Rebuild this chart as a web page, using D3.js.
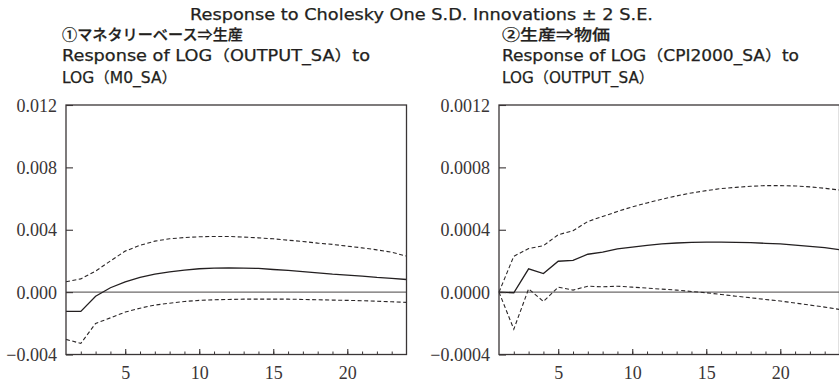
<!DOCTYPE html>
<html><head><meta charset="utf-8">
<script src="https://cdn.jsdelivr.net/npm/d3@7"></script>
<style>
html,body{margin:0;padding:0;background:#fff;}
svg{display:block;}
.sans{font-family:"DejaVu Sans","Noto Sans CJK JP",sans-serif;fill:#231f20;stroke:#231f20;stroke-width:0.25px;}
.cjk{font-family:"Noto Sans CJK JP",sans-serif;font-weight:500;fill:#231f20;stroke:#231f20;stroke-width:0.25px;}
.serif{font-family:"Liberation Serif","DejaVu Serif",serif;fill:#3a3536;}
</style></head>
<body>
<script>
const title = "Response to Cholesky One S.D. Innovations \u00B1 2 S.E.";
const periods = d3.range(1, 25);

// Panel 1: LOG(OUTPUT_SA) to LOG(M0_SA)
const p1Title = ["\u2460マネタリーベース\u21D2生産", "Response of LOG\uFF08OUTPUT_SA\uFF09to", "LOG\uFF08M0_SA\uFF09"];
const p1Ticks = [-0.004, 0.000, 0.004, 0.008, 0.012];
const p1Labels = ["\u22120.004", "0.000", "0.004", "0.008", "0.012"];
const p1Resp = [-0.00124,-0.00124,-0.00026,0.00028,0.00066,0.00094,0.00115,0.0013,0.00141,0.0015,0.00154,0.00156,0.00154,0.00152,0.00145,0.00139,0.00132,0.00124,0.00115,0.00109,0.00103,0.00094,0.00088,0.00081];
const p1Upper = [0.00066,0.00085,0.00135,0.002,0.00263,0.003,0.00327,0.00342,0.0035,0.00355,0.00357,0.00357,0.00353,0.00348,0.00342,0.00333,0.00325,0.00314,0.00306,0.00295,0.00284,0.00271,0.00256,0.00231];
const p1Lower = [-0.00303,-0.00329,-0.00201,-0.00165,-0.00128,-0.00103,-0.00083,-0.00071,-0.0006,-0.00053,-0.00049,-0.00047,-0.00045,-0.00045,-0.00045,-0.00045,-0.00047,-0.00049,-0.00051,-0.00053,-0.00055,-0.00058,-0.00062,-0.00066];

// Panel 2: LOG(CPI2000_SA) to LOG(OUTPUT_SA)
const p2Title = ["\u2461生産\u21D2物価", "Response of LOG\uFF08CPI2000_SA\uFF09to", "LOG\uFF08OUTPUT_SA\uFF09"];
const p2Ticks = [-0.0004, 0.0000, 0.0004, 0.0008, 0.0012];
const p2Labels = ["\u22120.0004", "0.0000", "0.0004", "0.0008", "0.0012"];
const p2Resp = [0,-0.000004,0.000149,0.000119,0.000198,0.000204,0.000243,0.000257,0.000277,0.000289,0.0003,0.000309,0.000315,0.000319,0.000321,0.000321,0.000319,0.000317,0.000313,0.000309,0.000302,0.000294,0.000285,0.000272];
const p2Upper = [0,0.00023,0.000279,0.000298,0.000368,0.000394,0.000453,0.000485,0.000517,0.000547,0.000572,0.000596,0.000617,0.000636,0.000651,0.000664,0.000672,0.000679,0.000683,0.000683,0.000681,0.000675,0.000666,0.000655];
const p2Lower = [0,-0.000238,0.000021,-0.00006,0.000032,0.000013,0.000038,0.000034,0.000038,0.000032,0.000026,0.000019,0.000013,0.000004,-0.000004,-0.000015,-0.000026,-0.000036,-0.000047,-0.000057,-0.00007,-0.000083,-0.000096,-0.000111];

const xMajor = [5, 10, 15, 20];

const W = 839, H = 382;
const svg = d3.select("body").append("svg").attr("width", W).attr("height", H);

function fit(sel, w) {
  sel.attr("textLength", w).attr("lengthAdjust", "spacingAndGlyphs");
  return sel;
}

fit(svg.append("text").attr("class","sans").attr("x", 190).attr("y", 20)
  .style("font-size","15px").text(title), 463);

const topY = 105, bottomY = 354.5;
const panels = [
  {left: 66, right: 406.5, tx: 62, widths: [181, 308, 115], titles: p1Title, ticks: p1Ticks, labels: p1Labels, resp: p1Resp, up: p1Upper, lo: p1Lower},
  {left: 499, right: 839.5, tx: 502, widths: [108, 297, 152], titles: p2Title, ticks: p2Ticks, labels: p2Labels, resp: p2Resp, up: p2Upper, lo: p2Lower}
];

panels.forEach(p => {
  const g = svg.append("g");
  const x = d3.scaleLinear().domain([1, 24]).range([p.left, p.right]);
  const y = d3.scaleLinear().domain([p.ticks[0], p.ticks[p.ticks.length-1]]).range([bottomY, topY]);

  p.titles.forEach((t, i) => {
    fit(g.append("text").attr("class", i === 0 ? "cjk" : "sans").attr("x", p.tx).attr("y", [39.5, 60.5, 83][i])
      .style("font-size","15px").text(t), p.widths[i]);
  });

  g.append("line").attr("x1", x(1)).attr("x2", x(24)).attr("y1", y(0)).attr("y2", y(0))
    .attr("stroke","#6d6a6a").attr("stroke-width",1.4);

  const line = d3.line().x((d,i) => x(periods[i])).y(d => y(d));
  g.append("path").attr("d", line(p.up)).attr("fill","none").attr("stroke","#2b2728")
    .attr("stroke-width",1.1).attr("stroke-dasharray","4,2.5");
  g.append("path").attr("d", line(p.lo)).attr("fill","none").attr("stroke","#2b2728")
    .attr("stroke-width",1.1).attr("stroke-dasharray","4,2.5");
  g.append("path").attr("d", line(p.resp)).attr("fill","none").attr("stroke","#231f20")
    .attr("stroke-width",1.3);

  g.append("rect").attr("x", p.left).attr("y", topY).attr("width", p.right - p.left).attr("height", bottomY - topY)
    .attr("fill","none").attr("stroke","#3a3536").attr("stroke-width",1.3);

  const ya = d3.axisLeft(y).tickValues(p.ticks).tickFormat((d,i) => p.labels[i]).tickSize(-7).tickPadding(16);
  const yg = g.append("g").attr("transform", `translate(${p.left},0)`).call(ya);
  yg.select(".domain").remove();
  yg.selectAll(".tick line").attr("stroke","#3a3536").attr("stroke-width",1.1);
  yg.selectAll(".tick text").attr("class","serif").style("font-size","18px").attr("fill","#3a3536").attr("x", -9).attr("dy","0.34em");

  const xa = d3.axisBottom(x).tickValues(periods.slice(1, 23)).tickSize(-3).tickFormat("");
  const xg = g.append("g").attr("transform", `translate(0,${bottomY})`).call(xa);
  xg.select(".domain").remove();
  xg.selectAll(".tick line").attr("stroke","#3a3536").attr("stroke-width",1);
  const xaM = d3.axisBottom(x).tickValues(xMajor).tickSize(-5.5).tickPadding(9);
  const xgM = g.append("g").attr("transform", `translate(0,${bottomY})`).call(xaM);
  xgM.select(".domain").remove();
  xgM.selectAll(".tick line").attr("stroke","#3a3536").attr("stroke-width",1.1);
  xgM.selectAll(".tick text").attr("class","serif").style("font-size","18px").attr("fill","#3a3536").attr("y", 12).attr("dy","0.71em");
});
</script>
</body></html>
